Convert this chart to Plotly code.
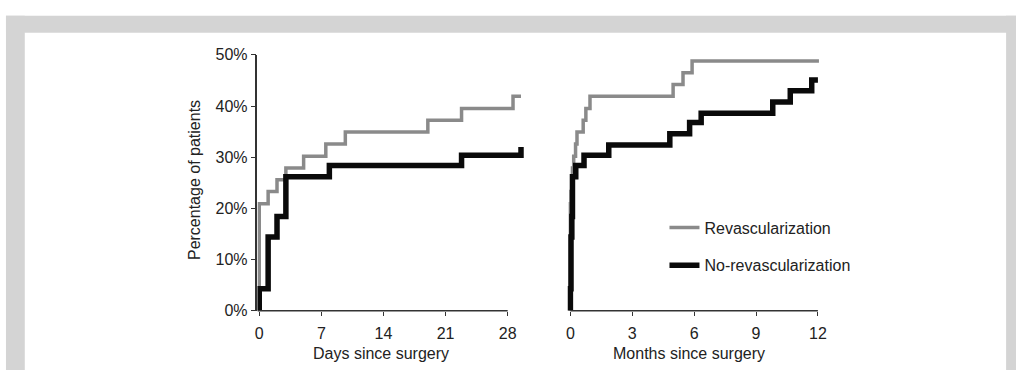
import plotly.graph_objects as go

# ---- data -------------------------------------------------------------
# Cumulative percentage of patients, step functions (event time, level)
days_revasc = [0, 0, 1, 2, 3, 5, 7.5, 9.7, 19, 22.8, 28.6, 29.5]
pct_days_revasc = [0, 20.9, 23.3, 25.6, 27.9, 30.2, 32.6, 34.9, 37.2, 39.5, 41.9, 41.9]

days_norevasc = [0, 0, 1, 2, 3, 7.9, 22.8, 29.5]
pct_days_norevasc = [0, 4.3, 14.4, 18.4, 26.2, 28.4, 30.4, 32.0]

months_revasc = [0, 0, 0.03, 0.07, 0.1, 0.16, 0.25, 0.32, 0.62, 0.75, 0.95, 4.98, 5.46, 5.9, 12.05]
pct_months_revasc = [0, 20.9, 23.3, 25.6, 27.9, 30.2, 32.6, 34.9, 37.2, 39.5, 41.9, 44.2, 46.5, 48.8, 48.8]

months_norevasc = [0, 0, 0.03, 0.07, 0.1, 0.26, 0.66, 1.86, 4.82, 5.78, 6.34, 9.81, 10.66, 11.7, 12.0]
pct_months_norevasc = [0, 4.3, 14.4, 18.4, 26.2, 28.4, 30.4, 32.4, 34.6, 36.8, 38.6, 40.8, 43.0, 45.1, 45.1]

series_names = ["Revascularization", "No-revascularization"]
day_ticks = [0, 7, 14, 21, 28]
month_ticks = [0, 3, 6, 9, 12]
pct_ticks = [0, 10, 20, 30, 40, 50]
pct_labels = ["0%", "10%", "20%", "30%", "40%", "50%"]

# ---- styling ----------------------------------------------------------
W, H = 1023, 379
FONT = "Liberation Sans, Arial, sans-serif"
TXT = "#222222"
AXC = "#333333"
GRAY = "#8a8a8a"
BLACK = "#0a0a0a"
FRAME = "#d4d4d4"

X1_RANGE = [-0.2, 30.2]
X2_RANGE = [-0.15, 12.1]
Y_RANGE = [0, 50]


def px(x):
    return x / W


def py(y):
    return 1 - y / H


fig = go.Figure()

fig.add_trace(go.Scatter(x=days_revasc, y=pct_days_revasc, mode="lines",
                         line=dict(color=GRAY, width=3.5, shape="hv"),
                         name=series_names[0], legendgroup="r", showlegend=True,
                         xaxis="x", yaxis="y"))
fig.add_trace(go.Scatter(x=days_norevasc, y=pct_days_norevasc, mode="lines",
                         line=dict(color=BLACK, width=5.5, shape="hv"),
                         name=series_names[1], legendgroup="n", showlegend=True,
                         xaxis="x", yaxis="y"))
fig.add_trace(go.Scatter(x=months_revasc, y=pct_months_revasc, mode="lines",
                         line=dict(color=GRAY, width=3.5, shape="hv"),
                         name=series_names[0], legendgroup="r", showlegend=False,
                         xaxis="x2", yaxis="y2"))
fig.add_trace(go.Scatter(x=months_norevasc, y=pct_months_norevasc, mode="lines",
                         line=dict(color=BLACK, width=5.5, shape="hv"),
                         name=series_names[1], legendgroup="n", showlegend=False,
                         xaxis="x2", yaxis="y2"))

y_dom = [py(317), py(49)]
x1_dom = [px(257), px(257 + (X1_RANGE[1] - X1_RANGE[0]) * 8.96)]
x2_dom = [px(573 + X2_RANGE[0] * 20.83), px(573 + X2_RANGE[1] * 20.83)]

common_x = dict(showgrid=False, zeroline=False, showline=False, ticks="outside",
                ticklen=4, tickwidth=1.3, tickcolor=AXC, ticklabelstandoff=4,
                tickfont=dict(family=FONT, size=16, color=TXT))

shapes = [
    # page frame
    dict(type="rect", xref="paper", yref="paper", x0=px(3), x1=px(22), y0=0, y1=py(8),
         fillcolor=FRAME, line_width=0, layer="below"),
    dict(type="rect", xref="paper", yref="paper", x0=px(3), x1=1, y0=py(26), y1=py(8),
         fillcolor=FRAME, line_width=0, layer="below"),
    dict(type="rect", xref="paper", yref="paper", x0=px(1013), x1=1, y0=0, y1=py(8),
         fillcolor=FRAME, line_width=0, layer="below"),
    # horizontal axis lines ending at the last tick
    dict(type="line", xref="x", yref="y domain", x0=X1_RANGE[0], x1=day_ticks[-1], y0=0, y1=0,
         line=dict(color=AXC, width=1.5)),
    dict(type="line", xref="x2", yref="y2 domain", x0=0, x1=month_ticks[-1], y0=0, y1=0,
         line=dict(color=AXC, width=1.5)),
]

ann_font = dict(family=FONT, size=16, color=TXT)
annotations = [
    dict(text="Percentage of patients", xref="paper", yref="paper", x=px(194), y=py(180),
         xanchor="center", yanchor="middle", textangle=-90, showarrow=False, font=ann_font),
    dict(text="Days since surgery", xref="paper", yref="paper", x=px(382), y=py(362),
         xanchor="center", yanchor="middle", showarrow=False, font=ann_font),
    dict(text="Months since surgery", xref="paper", yref="paper", x=px(693), y=py(362),
         xanchor="center", yanchor="middle", showarrow=False, font=ann_font),
]

fig.update_layout(
    width=W, height=H,
    margin=dict(l=0, r=0, t=0, b=0),
    paper_bgcolor="white", plot_bgcolor="rgba(0,0,0,0)",
    font=dict(family=FONT, size=16, color=TXT),
    xaxis=dict(domain=x1_dom, range=X1_RANGE, tickvals=day_ticks, anchor="y", **common_x),
    xaxis2=dict(domain=x2_dom, range=X2_RANGE, tickvals=month_ticks, anchor="y2", **common_x),
    yaxis=dict(domain=y_dom, range=Y_RANGE, tickvals=pct_ticks, ticktext=pct_labels,
               showgrid=False, zeroline=False, showline=True, linecolor=AXC, linewidth=1.5,
               ticks="outside", ticklen=5, tickwidth=1.3, tickcolor=AXC, anchor="x",
               tickfont=dict(family=FONT, size=16, color=TXT)),
    yaxis2=dict(domain=y_dom, range=Y_RANGE, showgrid=False, zeroline=False, showline=False,
                showticklabels=False, ticks="", anchor="x2"),
    showlegend=True,
    legend=dict(x=px(668), y=py(212), xanchor="left", yanchor="top",
                bgcolor="rgba(0,0,0,0)", borderwidth=0, traceorder="grouped",
                tracegroupgap=14, font=ann_font),
    shapes=shapes,
    annotations=annotations,
)

fig.write_html("out.html")
